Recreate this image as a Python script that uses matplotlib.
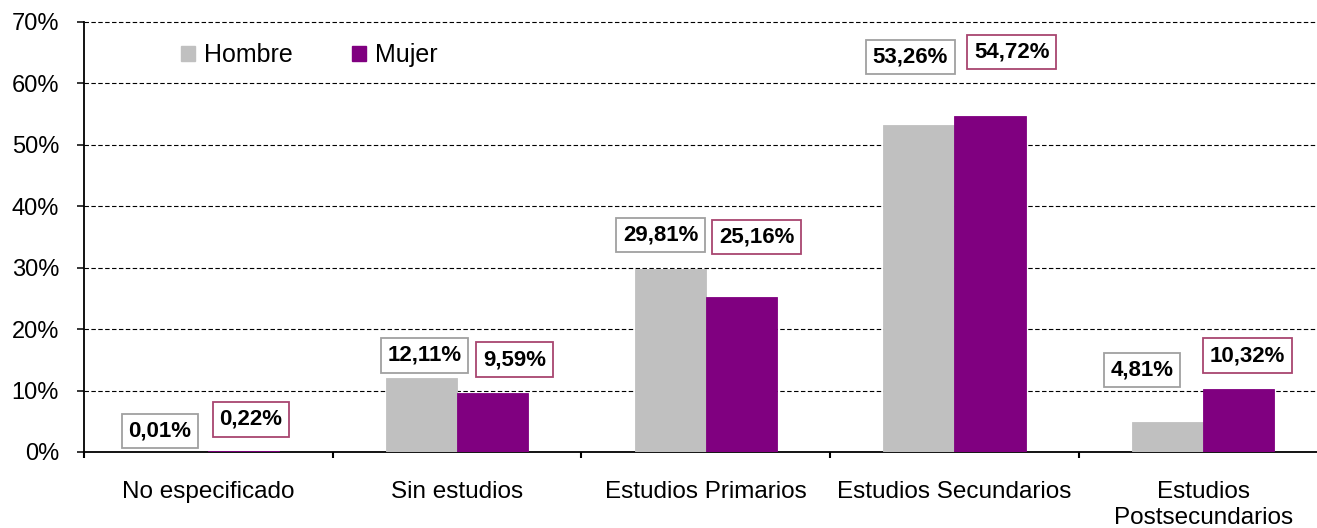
import matplotlib
matplotlib.use("Agg")
import matplotlib.pyplot as plt
from matplotlib.patches import Patch
import numpy as np

plt.rcParams['font.family'] = ['Liberation Sans', 'DejaVu Sans']

categories = ["No especificado", "Sin estudios", "Estudios Primarios",
              "Estudios Secundarios", "Estudios\nPostsecundarios"]
hombre = [0.01, 12.11, 29.81, 53.26, 4.81]
mujer = [0.22, 9.59, 25.16, 54.72, 10.32]
series_names = ["Hombre", "Mujer"]
y_ticks = [0, 10, 20, 30, 40, 50, 60, 70]
y_tick_labels = ["0%", "10%", "20%", "30%", "40%", "50%", "60%", "70%"]

# label placement offsets in pixels (style)
h_dx = [-13.0, 3.2, -9.7, -8.7, -25.9]
h_dy = [20.7, 22.1, 33.8, 67.6, 52.6]
m_dx = [7.0, 21.8, 15.3, 21.7, 8.7]
m_dy = [31.3, 33.5, 60.6, 63.3, 32.9]

c_h = "#C0C0C0"
c_m = "#800080"
edge_h = "#A0A0A0"
edge_m = "#A8456F"

W, H = 1317, 528
fig = plt.figure(figsize=(W / 100, H / 100), dpi=100)
ax = fig.add_axes([84 / W, (H - 452) / H, 1243.5 / W, 430.3 / H])

x = np.arange(len(categories))
w = 0.286
bh = ax.bar(x - w / 2, hombre, w, color=c_h, edgecolor=c_h, lw=0.6, zorder=3)
bm = ax.bar(x + w / 2, mujer, w, color=c_m, edgecolor=c_m, lw=0.6, zorder=3)

ax.set_xlim(-0.5, len(categories) - 0.5)
ax.set_ylim(0, 70)

for yv in y_ticks[1:]:
    ax.axhline(yv, color="black", lw=0.8, ls=(0, (4, 2.2)), zorder=1, clip_on=False)

ax.set_yticks(y_ticks)
ax.set_yticklabels(y_tick_labels, fontsize=17)
ax.tick_params(axis="y", direction="out", length=5, width=1.1, pad=13, colors="black")

ax.set_xticks(np.arange(len(categories) + 1) - 0.5)
ax.set_xticklabels([])
ax.tick_params(axis="x", which="major", direction="out", length=4, width=1.5)
ax.set_xticks(x, minor=True)
ax.set_xticklabels(categories, minor=True, fontsize=17.5, linespacing=1.2)
ax.tick_params(axis="x", which="minor", length=0, pad=21)

for s in ["top", "right"]:
    ax.spines[s].set_visible(False)
ax.spines["left"].set_linewidth(1.3)
ax.spines["bottom"].set_linewidth(1.3)
ax.spines["bottom"].set_zorder(2)


def fmt(v):
    return f"{v:.2f}".replace(".", ",") + "%"


for i in range(len(categories)):
    ax.annotate(fmt(hombre[i]), xy=(x[i] - w / 2, hombre[i]),
                xytext=(h_dx[i], h_dy[i]), textcoords="offset pixels",
                ha="center", va="center", fontsize=16, fontweight="bold",
                bbox=dict(boxstyle="square,pad=0.3", fc="white", ec=edge_h, lw=1.3),
                zorder=5)
    ax.annotate(fmt(mujer[i]), xy=(x[i] + w / 2, mujer[i]),
                xytext=(m_dx[i], m_dy[i]), textcoords="offset pixels",
                ha="center", va="center", fontsize=16, fontweight="bold",
                bbox=dict(boxstyle="square,pad=0.3", fc="white", ec=edge_m, lw=1.3),
                zorder=5)

handles = [Patch(color=c_h, label=series_names[0]), Patch(color=c_m, label=series_names[1])]
leg = ax.legend(handles=handles, loc="center left",
                bbox_to_anchor=((181 - 84) / 1243.5, (452 - 55) / 430.3),
                ncol=2, frameon=False, fontsize=18, handlelength=0.55, handleheight=0.55,
                handletextpad=0.35, columnspacing=2.4, borderpad=0, borderaxespad=0)

fig.savefig("out.png", dpi=100)
